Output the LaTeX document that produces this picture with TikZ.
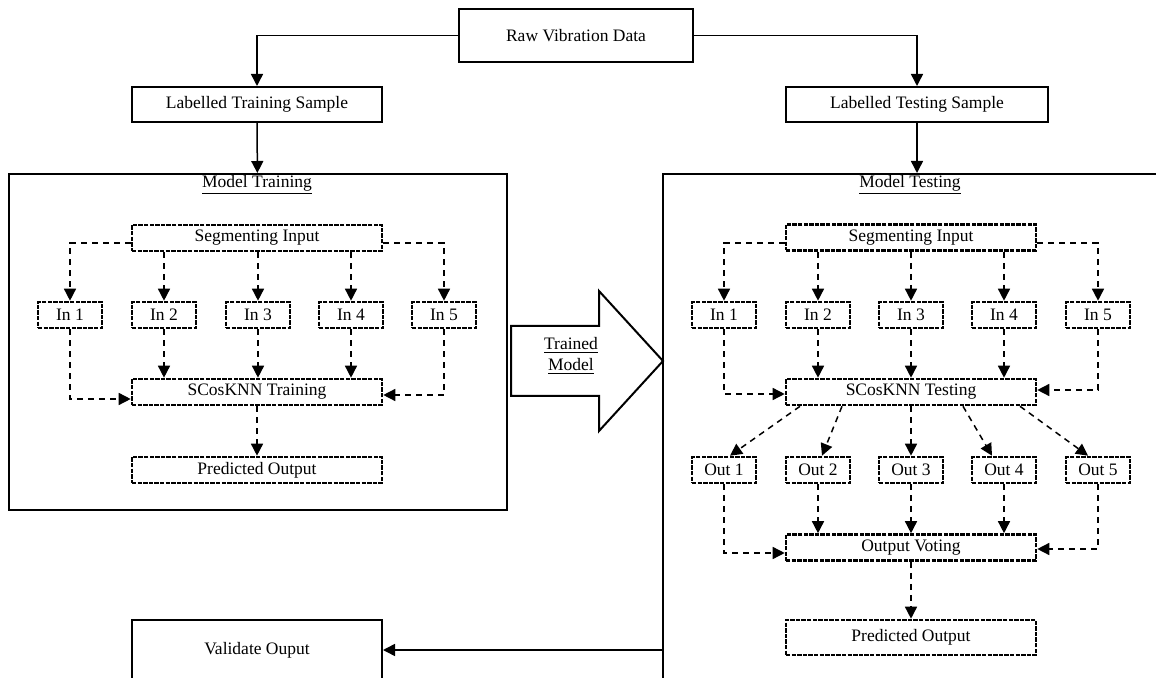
\documentclass[tikz,border=0pt]{standalone}
\usepackage{fontspec}
\setmainfont{Liberation Serif}
\usetikzlibrary{arrows.meta}

\begin{document}
\begin{tikzpicture}[x=0.5pt,y=-0.5pt,
    every node/.style={font=\fontsize{8.75}{10.5}\selectfont},
    plainbox/.style={rectangle,draw,line width=1pt,inner sep=0pt},
    dbox/.style={rectangle,draw,line width=1.3pt,dash pattern=on 2.2pt off 0.6pt,inner sep=0pt,minimum height=13pt},
    inbox/.style={dbox,minimum width=32pt},
    widebox/.style={dbox,minimum width=125pt},
    flow/.style={-{Triangle[length=6pt,width=6pt]},line width=0.75pt},
    dflow/.style={flow,dash pattern=on 3pt off 2.5pt}]
    \useasboundingbox (0,0) rectangle (1156,678);
    \clip (0,0) rectangle (1156,678);

    \node[plainbox,minimum width=117pt,minimum height=26.5pt] (raw_data) at (576,35.5) {Raw Vibration Data};
    \node[plainbox,minimum width=125pt,minimum height=17.5pt] (train_sample) at (257,104.5) {Labelled Training Sample};
    \node[plainbox,minimum width=131pt,minimum height=17.5pt] (test_sample) at (917,104.5) {Labelled Testing Sample};
    \node[plainbox,line width=1.2pt,anchor=north west,minimum width=249pt,minimum height=168pt] (m_train) at (8,173) {};
    \node[plainbox,line width=1.2pt,anchor=north west,minimum width=300pt,minimum height=300pt] (m_test) at (662,173) {};
    \node (t_train) at (257,185) {\underline{Model Training}};
    \node (t_test) at (910,185) {\underline{Model Testing}};
    \node[plainbox,minimum width=125pt,minimum height=30pt] (val_out) at (257,650) {Validate Ouput};

    % training side
    \node[widebox] (seg_tr) at (257,238) {Segmenting Input};
    \node[inbox] (in1_tr) at (70,315) {In 1};
    \node[inbox] (in2_tr) at (164,315) {In 2};
    \node[inbox] (in3_tr) at (258,315) {In 3};
    \node[inbox] (in4_tr) at (351,315) {In 4};
    \node[inbox] (in5_tr) at (444,315) {In 5};
    \node[widebox] (scos_tr) at (257,392) {SCosKNN Training};
    \node[widebox] (pred_tr) at (257,470) {Predicted Output};

    % testing side
    \node[widebox] (seg_te) at (911,237.5) {Segmenting Input};
    \node[inbox] (in1_te) at (724,315) {In 1};
    \node[inbox] (in2_te) at (818,315) {In 2};
    \node[inbox] (in3_te) at (911,315) {In 3};
    \node[inbox] (in4_te) at (1004,315) {In 4};
    \node[inbox] (in5_te) at (1098,315) {In 5};
    \node[widebox] (scos_te) at (911,392) {SCosKNN Testing};
    \node[inbox] (out1_te) at (724,470) {Out 1};
    \node[inbox] (out2_te) at (818,470) {Out 2};
    \node[inbox] (out3_te) at (911,470) {Out 3};
    \node[inbox] (out4_te) at (1004,470) {Out 4};
    \node[inbox] (out5_te) at (1098,470) {Out 5};
    \node[widebox] (vote_te) at (911,547.5) {Output Voting};
    \node[widebox,minimum height=17.5pt] (pred_te) at (911,637.5) {Predicted Output};

    % trained model arrow
    \draw[line width=1pt] (511,326) -- (599,326) -- (599,291) -- (663,361) -- (599,431) -- (599,396) -- (511,396) -- cycle ;
    \node[align=center] (trained) at (571,356) {\underline{Trained}\\\underline{Model}};

    \draw[flow] (raw_data.west) -| (train_sample) ;
    \draw[flow] (raw_data.east) -| (test_sample) ;
    \draw[flow] (train_sample) -- (m_train) ;
    \draw[flow] (test_sample) -- (test_sample |- m_test.north) ;
    \draw[flow] (val_out.east -| m_test.west) -- (val_out) ;

    \draw[dflow] ([yshift=-2.5pt]seg_tr.west) -| (in1_tr) ;
    \draw[dflow] (seg_tr.south -| in2_tr) -- (in2_tr) ;
    \draw[dflow] (seg_tr.south -| in3_tr) -- (in3_tr) ;
    \draw[dflow] (seg_tr.south -| in4_tr) -- (in4_tr) ;
    \draw[dflow] ([yshift=-2.5pt]seg_tr.east) -| (in5_tr) ;
    \draw[dflow] (in1_tr) |- ([yshift=-3.5pt]scos_tr.west) ;
    \draw[dflow] (in2_tr) -- (in2_tr |- scos_tr.north) ;
    \draw[dflow] (in3_tr) -- (in3_tr |- scos_tr.north) ;
    \draw[dflow] (in4_tr) -- (in4_tr |- scos_tr.north) ;
    \draw[dflow] (in5_tr) |- ([yshift=-1.5pt]scos_tr.east) ;
    \draw[dflow] (scos_tr) -- (pred_tr) ;

    \draw[dflow] ([yshift=-2.8pt]seg_te.west) -| (in1_te) ;
    \draw[dflow] (seg_te.south -| in2_te) -- (in2_te) ;
    \draw[dflow] (seg_te.south -| in3_te) -- (in3_te) ;
    \draw[dflow] (seg_te.south -| in4_te) -- (in4_te) ;
    \draw[dflow] ([yshift=-2.8pt]seg_te.east) -| (in5_te) ;
    \draw[dflow] (in1_te) |- ([yshift=-1pt]scos_te.west) ;
    \draw[dflow] (in2_te) -- (in2_te |- scos_te.north) ;
    \draw[dflow] (in3_te) -- (in3_te |- scos_te.north) ;
    \draw[dflow] (in4_te) -- (in4_te |- scos_te.north) ;
    \draw[dflow] (in5_te) |- ([yshift=1pt]scos_te.east) ;
    \draw[dflow] ([xshift=-55.5pt]scos_te.south) -- ([xshift=3pt]out1_te.north) ;
    \draw[dflow] ([xshift=-34.5pt]scos_te.south) -- ([xshift=2pt]out2_te.north) ;
    \draw[dflow] (scos_te) -- (out3_te) ;
    \draw[dflow] ([xshift=26pt]scos_te.south) -- ([xshift=-6pt]out4_te.north) ;
    \draw[dflow] ([xshift=54.5pt]scos_te.south) -- ([xshift=-5pt]out5_te.north) ;
    \draw[dflow] (out1_te) |- ([yshift=-2.75pt]vote_te.west) ;
    \draw[dflow] (out2_te) -- (out2_te |- vote_te.north) ;
    \draw[dflow] (out3_te) -- (out3_te |- vote_te.north) ;
    \draw[dflow] (out4_te) -- (out4_te |- vote_te.north) ;
    \draw[dflow] (out5_te) |- ([yshift=-0.75pt]vote_te.east) ;
    \draw[dflow] (vote_te) -- (pred_te) ;
\end{tikzpicture}
\end{document}
